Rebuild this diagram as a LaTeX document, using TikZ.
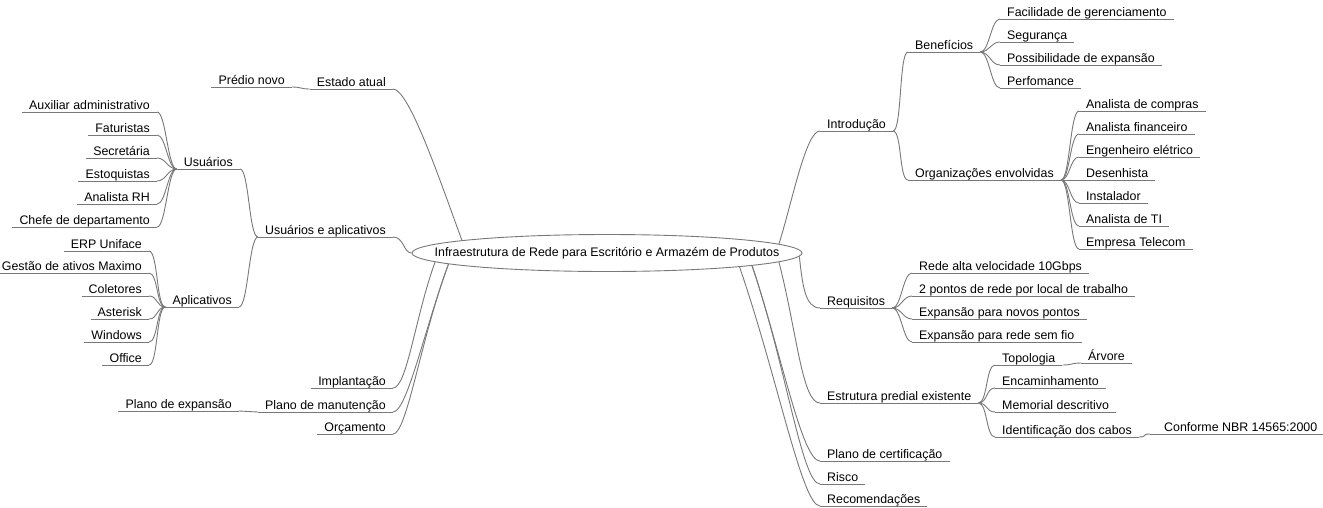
\documentclass[tikz,border=0pt]{standalone}
\usepackage{fontspec}
\setmainfont{Liberation Sans}
\usetikzlibrary{shapes.geometric}
\definecolor{lc}{RGB}{120,120,120}
\newcommand\fs{\fontsize{12.4}{14}\selectfont}
\begin{document}
\begin{tikzpicture}[x=1pt,y=-1pt,
  ln/.style={draw=lc, line width=0.9pt},
  topic/.style={inner xsep=7pt, inner ysep=1pt, text height=9pt, text depth=1.5pt, font=\fs,
    append after command={(\tikzlastnode.south west) edge[ln] (\tikzlastnode.south east)}},
  rt/.style={topic, anchor=south west},
  lt/.style={topic, anchor=south east},
  rootnode/.style={ellipse, draw=lc, line width=0.9pt, minimum width=390pt, minimum height=37pt, inner sep=0pt, font=\fs}]
\newcommand\redge[2]{\draw[ln] (#1.south east) .. controls +(9,0) and +(-9,0) .. (#2.south west);}
\newcommand\ledge[2]{\draw[ln] (#1.south west) .. controls +(-9,0) and +(9,0) .. (#2.south east);}
\useasboundingbox (0,0) rectangle (1323,507);
\node[rootnode] (root) at (607,253) {\makebox[0pt][c]{Infraestrutura de Rede para Escritório e Armazém de Produtos}};
% right side
\node[rt] (intro) at (820,131) {Introdução};
\node[rt] (benef) at (908,52) {Benefícios};
\node[rt] (fac) at (1000,19) {Facilidade de gerenciamento};
\node[rt] (seg) at (1000,42) {Segurança};
\node[rt] (poss) at (1000,65) {Possibilidade de expansão};
\node[rt] (perf) at (1000,88) {Perfomance};
\node[rt] (org) at (908,180) {Organizações envolvidas};
\node[rt] (ac) at (1079,111) {Analista de compras};
\node[rt] (af) at (1079,134) {Analista financeiro};
\node[rt] (ee) at (1079,157) {Engenheiro elétrico};
\node[rt] (des) at (1079,180) {Desenhista};
\node[rt] (inst) at (1079,203) {Instalador};
\node[rt] (ati) at (1079,226) {Analista de TI};
\node[rt] (emp) at (1079,249) {Empresa Telecom};
\node[rt] (req) at (820,308) {Requisitos};
\node[rt] (r1) at (912,273) {Rede alta velocidade 10Gbps};
\node[rt] (r2) at (912,296) {2 pontos de rede por local de trabalho};
\node[rt] (r3) at (912,319) {Expansão para novos pontos};
\node[rt] (r4) at (912,342) {Expansão para rede sem fio};
\node[rt] (est) at (820,403) {Estrutura predial existente};
\node[rt] (topo) at (995,365) {Topologia};
\node[rt] (arv) at (1081,363) {Árvore};
\node[rt] (enc) at (995,388) {Encaminhamento};
\node[rt] (mem) at (995,412) {Memorial descritivo};
\node[rt] (ident) at (995,437) {Identificação dos cabos};
\node[rt] (conf) at (1150,434) {\hspace*{7pt}Conforme NBR 14565:2000};
\node[rt] (cert) at (820,461) {Plano de certificação};
\node[rt] (risco) at (820,484) {Risco};
\node[rt] (recom) at (820,506) {Recomendações};
% left side
\node[lt] (estado) at (393,89) {Estado atual};
\node[lt] (predio) at (292,87) {Prédio novo};
\node[lt] (usap) at (393,237) {Usuários e aplicativos};
\node[lt] (usu) at (240,169) {Usuários};
\node[lt] (aux) at (157,112) {Auxiliar administrativo};
\node[lt] (fat) at (157,135) {Faturistas};
\node[lt] (sec) at (157,158) {Secretária};
\node[lt] (esto) at (157,181) {Estoquistas};
\node[lt] (arh) at (157,204) {Analista RH};
\node[lt] (chefe) at (157,227) {Chefe de departamento};
\node[lt] (apl) at (239,307) {Aplicativos};
\node[lt] (erp) at (149,251) {ERP Uniface};
\node[lt] (gest) at (149,273) {Gestão de ativos Maximo};
\node[lt] (col) at (149,296) {Coletores};
\node[lt] (ast) at (149,319) {Asterisk};
\node[lt] (win) at (149,342) {Windows};
\node[lt] (off) at (149,365) {Office};
\node[lt] (impl) at (393,388) {Implantação};
\node[lt] (man) at (393,412) {Plano de manutenção};
\node[lt] (expan) at (239,411) {Plano de expansão};
\node[lt] (orc) at (393,434) {Orçamento};
% root branches right
\draw[ln] (root.3) .. controls +(14,-45) and +(-14,0) .. (intro.south west);
\draw[ln] (root.-1.4) .. controls +(3,28) and +(-15,0) .. (req.south west);
\draw[ln] (root.-3.9) .. controls +(18,70) and +(-18,0) .. (est.south west);
\draw[ln] (root.-5.3) .. controls +(30,90) and +(-18,0) .. (cert.south west);
\draw[ln] (root.-5.9) .. controls +(34,100) and +(-18,0) .. (risco.south west);
\draw[ln] (root.-6.4) .. controls +(38,110) and +(-18,0) .. (recom.south west);
% root branches left
\draw[ln] (estado.south east) .. controls +(16,0) and +(-22,-60) .. (root.175.8);
\draw[ln] (usap.south east) .. controls +(11,0) and +(-8,0) .. (root.west);
\draw[ln] (root.183.5) .. controls +(-20,55) and +(14,0) .. (impl.south east);
\draw[ln] (root.184) .. controls +(-24,65) and +(14,0) .. (man.south east);
\draw[ln] (root.184.6) .. controls +(-28,75) and +(14,0) .. (orc.south east);
% right fans
\redge{intro}{benef}
\redge{intro}{org}
\redge{benef}{fac}
\redge{benef}{seg}
\redge{benef}{poss}
\redge{benef}{perf}
\redge{org}{ac}
\redge{org}{af}
\redge{org}{ee}
\redge{org}{des}
\redge{org}{inst}
\redge{org}{ati}
\redge{org}{emp}
\redge{req}{r1}
\redge{req}{r2}
\redge{req}{r3}
\redge{req}{r4}
\redge{est}{topo}
\redge{est}{enc}
\redge{est}{mem}
\redge{est}{ident}
\redge{topo}{arv}
\redge{ident}{conf}
% left fans
\ledge{estado}{predio}
\ledge{usap}{usu}
\ledge{usap}{apl}
\ledge{usu}{aux}
\ledge{usu}{fat}
\ledge{usu}{sec}
\ledge{usu}{esto}
\ledge{usu}{arh}
\ledge{usu}{chefe}
\ledge{apl}{erp}
\ledge{apl}{gest}
\ledge{apl}{col}
\ledge{apl}{ast}
\ledge{apl}{win}
\ledge{apl}{off}
\ledge{man}{expan}
\end{tikzpicture}
\end{document}
